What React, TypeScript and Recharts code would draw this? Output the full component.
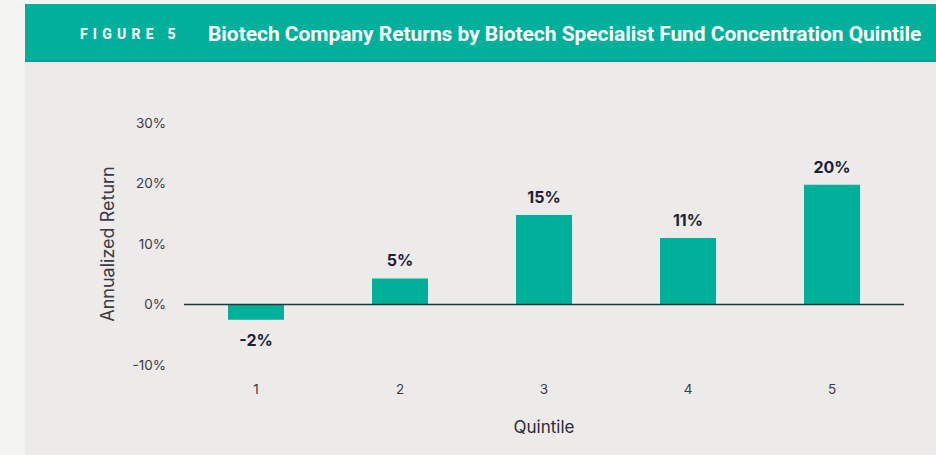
import { Bar, BarChart, Cell, LabelList, ReferenceLine, XAxis, YAxis } from 'recharts';

const quintiles = ['1', '2', '3', '4', '5'];
const returns = [-2.5, 4.3, 14.8, 11.0, 19.8];
const returnLabels = ['-2%', '5%', '15%', '11%', '20%'];
const yTicks = [-10, 0, 10, 20, 30];

const teal = '#00b09a';
const panelBg = '#ecebea';
const labelColor = '#1e1d3a';
const font = 'Inter, "Noto Sans", sans-serif';

const data = quintiles.map((q, i) => ({
  quintile: q,
  value: returns[i],
  label: returnLabels[i],
}));

const ValueLabel = (props: any) => {
  const { x, y, width, height, index } = props;
  const top = Math.min(y, y + height);
  const bottom = Math.max(y, y + height);
  const negative = returns[index] < 0;
  return (
    <text
      x={x + width / 2}
      y={negative ? bottom + 26 : top - 12}
      textAnchor='middle'
      fill={labelColor}
      fontSize={16}
      fontWeight={700}
      fontFamily={font}
    >
      {returnLabels[index]}
    </text>
  );
};

const YLabel = (props: any) => {
  const { viewBox } = props;
  const cx = viewBox.x + 82;
  const cy = viewBox.y + viewBox.height / 2;
  return (
    <text
      x={cx}
      y={cy}
      transform={`rotate(-90, ${cx}, ${cy})`}
      textAnchor='middle'
      dominantBaseline='central'
      fill='#3a3a48'
      fontSize={18}
      fontFamily={font}
    >
      Annualized Return
    </text>
  );
};

const App = () => {
  return (
    <div
      style={{
        position: 'absolute',
        left: 0,
        top: 0,
        width: 936,
        height: 455,
        background: '#f3f3f2',
        overflow: 'hidden',
        fontFamily: font,
      }}
    >
      <div
        style={{
          position: 'absolute',
          left: 25,
          top: 4,
          width: 911,
          height: 58,
          background: teal,
          borderBottom: '2px solid #05a08c',
          boxSizing: 'border-box',
          color: '#fff',
        }}
      >
        <span
          style={{
            position: 'absolute',
            left: 55,
            top: 22,
            fontSize: 14,
            fontWeight: 800,
            letterSpacing: 5.2,
            fontFamily: 'Roboto, sans-serif',
            whiteSpace: 'nowrap',
          }}
        >
          FIGURE 5
        </span>
        <span
          style={{
            position: 'absolute',
            left: 183,
            top: 18,
            fontSize: 21,
            fontWeight: 700,
            letterSpacing: -0.05,
            fontFamily: 'Roboto, sans-serif',
            whiteSpace: 'nowrap',
          }}
        >
          Biotech Company Returns by Biotech Specialist Fund Concentration Quintile
        </span>
      </div>
      <div
        style={{
          position: 'absolute',
          left: 25,
          top: 62,
          width: 911,
          height: 393,
          background: panelBg,
        }}
      >
        <BarChart
          width={911}
          height={393}
          data={data}
          margin={{ top: 61, right: 32, left: 0, bottom: 0 }}
          barCategoryGap={44}
        >
          <YAxis
            width={159}
            domain={[-10, 30]}
            ticks={yTicks}
            axisLine={false}
            tickLine={false}
            tickMargin={12}
            tickFormatter={(v) => `${v}%`}
            tick={{ fill: '#3a3a48', fontSize: 13.5, fontFamily: font }}
            label={<YLabel />}
          />
          <XAxis
            dataKey='quintile'
            height={90}
            axisLine={false}
            tickLine={false}
            tickMargin={13}
            tick={{ fill: '#3a3a48', fontSize: 13.5, fontFamily: font }}
            label={{
              value: 'Quintile',
              position: 'insideBottom',
              offset: 22,
              fill: '#2a2a3a',
              fontSize: 17,
              fontFamily: font,
            }}
          />
          <ReferenceLine y={0} stroke='#1f3a36' strokeWidth={1.5} />
          <Bar dataKey='value' isAnimationActive={false}>
            {data.map((entry, index) => (
              <Cell key={`cell-${index}`} fill={teal} />
            ))}
            <LabelList dataKey='label' content={<ValueLabel />} />
          </Bar>
        </BarChart>
      </div>
    </div>
  );
};

export default App;
